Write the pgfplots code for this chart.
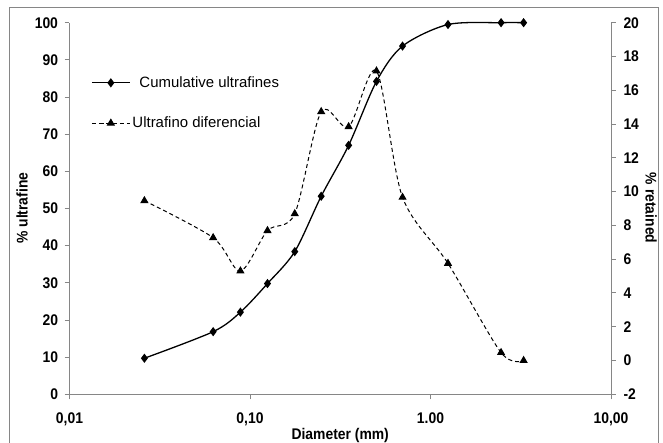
\documentclass[border=0pt]{standalone}
\usepackage{pgfplots}
\pgfplotsset{compat=1.18}
\usepackage{fontspec}
\setmainfont{Liberation Sans}
\newfontfamily\tkfont[FakeStretch=0.9]{Liberation Sans}
\definecolor{axgray}{RGB}{134,134,134}
\pgfplotstableread{
x y
0.026 9.7
0.0625 16.85
0.0885 22.1
0.125 29.8
0.177 38.4
0.248 53.3
0.352 67.0
0.502 84.2
0.70 93.7
1.25 99.5
2.46 100
3.28 100
}\cumdata
\pgfplotstableread{
x y
0.026 9.46
0.0625 7.27
0.0885 5.30
0.125 7.69
0.177 8.69
0.248 14.73
0.352 13.84
0.502 17.14
0.70 9.66
1.25 5.75
2.46 0.47
3.28 0.0
}\difdata
\begin{document}
\begin{tikzpicture}[x=1bp,y=1bp]
\useasboundingbox (0,0) rectangle (663,443);
\draw[axgray, line width=1bp] (9.5,-6) rectangle (658,435);
\begin{axis}[
  at={(69.5bp,48.7bp)}, anchor=south west,
  scale only axis, width=541.5bp, height=371.6bp,
  xmode=log, xmin=0.01, xmax=10,
  xminorticks=false, yminorticks=false,
  axis line style={axgray, line width=0.9bp},
  tick style={axgray, line width=0.9bp},
  tick align=outside, major tick length=5bp,
  ticklabel style={font=\tkfont\bfseries\fontsize{15.5}{15.5}\selectfont, text=black},
  xticklabel style={yshift=-10bp},
  yticklabel style={xshift=-3bp},
  label style={font=\tkfont\bfseries\fontsize{15.5}{15.5}\selectfont},
  clip=false,
  ymin=0, ymax=100,
  axis x line*=bottom, axis y line*=left,
  xtick={0.01,0.1,1,10},
  xticklabels={{0,01},{0,10},{1.00},{10,00}},
  ytick={0,10,20,30,40,50,60,70,80,90,100},
  yticklabels={0,10,20,30,40,50,60,70,80,90,100},
  xlabel={Diameter (mm)},
  ylabel={\% ultrafine},
  xlabel style={at={(axis description cs:0.5,-0.1118)}, anchor=center},
  ylabel style={at={(axis description cs:-0.0877,0.501)}, anchor=center},
]
\addplot[black, line width=1.3bp, smooth, mark=diamond*, mark size=3.6bp, mark options={solid}] table[x=x,y=y] {\cumdata};
\end{axis}
\begin{axis}[
  at={(69.5bp,48.7bp)}, anchor=south west,
  scale only axis, width=541.5bp, height=371.6bp,
  xmode=log, xmin=0.01, xmax=10,
  xminorticks=false, yminorticks=false,
  axis line style={axgray, line width=0.9bp},
  tick style={axgray, line width=0.9bp},
  tick align=outside, major tick length=5bp,
  ticklabel style={font=\tkfont\bfseries\fontsize{15.5}{15.5}\selectfont, text=black},
  yticklabel style={xshift=4bp},
  label style={font=\tkfont\bfseries\fontsize{15.5}{15.5}\selectfont},
  clip=false,
  ymin=-2, ymax=20,
  axis x line=none, axis y line*=right,
  ytick={-2,0,2,4,6,8,10,12,14,16,18,20},
  yticklabels={-2,0,2,4,6,8,10,12,14,16,18,20},
  ylabel={\% retained},
  ylabel style={at={(axis description cs:1.0739,0.501)}, anchor=center, rotate=180},
  legend style={at={(axis description cs:0.0397,0.8606)}, anchor=north west,
    draw=none, fill=none, font=\fontsize{15}{15}\selectfont,
    row sep=24bp, inner sep=0pt, cells={anchor=west}},
  legend image code/.code={\draw[mark repeat=2,mark phase=2] plot coordinates {(0bp,0bp) (19bp,0bp) (38bp,0bp)};},
]
\addlegendimage{black, line width=1.3bp, mark=diamond*, mark size=3.6bp, mark options={solid}}
\addlegendentry{\hspace{7bp}Cumulative ultrafines}
\addplot[black, line width=1bp, dash pattern=on 4bp off 3bp, smooth, mark=triangle*, mark size=3.8bp, mark options={solid}] table[x=x,y=y] {\difdata};
\addlegendentry{Ultrafino diferencial}
\end{axis}
\end{tikzpicture}
\end{document}
